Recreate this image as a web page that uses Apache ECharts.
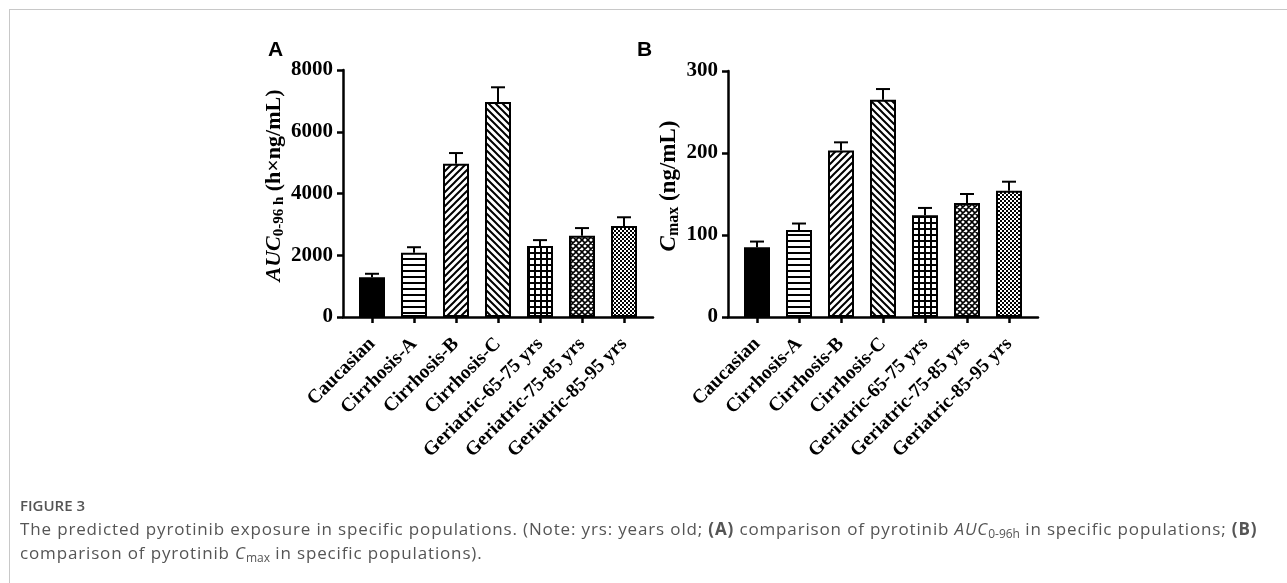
<!DOCTYPE html>
<html><head><meta charset="utf-8">
<script src="https://cdn.jsdelivr.net/npm/echarts@6/dist/echarts.min.js"></script>
<style>
html,body{margin:0;padding:0;background:#fff;}
#wrap{position:relative;width:1287px;height:583px;overflow:hidden;background:#fff;}
#frame{position:absolute;left:9px;top:9px;width:1400px;height:700px;border-top:1px solid #c8c8c8;border-left:1px solid #c8c8c8;}
#chart{position:absolute;left:0;top:0;width:1287px;height:583px;}
#fig{position:absolute;left:20px;top:494px;font-family:'Open Sans';font-weight:600;color:#555;font-size:15px;line-height:22px;white-space:nowrap;}
#cap{position:absolute;left:20px;top:517px;font-family:'Open Sans';color:#555;font-size:17px;letter-spacing:0.85px;line-height:24px;white-space:nowrap;}
#cap sub{font-size:12px;line-height:0;vertical-align:-3px;letter-spacing:0;}
#cap b{font-weight:700;}
</style></head>
<body>
<div id="wrap">
<div id="frame"></div>
<div id="chart"></div>
<div id="fig">FIGURE 3</div>
<div id="cap">The predicted pyrotinib exposure in specific populations. (Note: yrs: years old; <b>(A)</b> comparison of pyrotinib <i>AUC</i><sub>0-96h</sub> in specific populations; <b>(B)</b><br>comparison of pyrotinib <i>C</i><sub>max</sub> in specific populations).</div>
</div>
<script>
const categories = ['Caucasian','Cirrhosis-A','Cirrhosis-B','Cirrhosis-C','Geriatric-65-75 yrs','Geriatric-75-85 yrs','Geriatric-85-95 yrs'];
const aucMean = [1290, 2080, 4960, 6960, 2300, 2630, 2950];
const aucSD   = [110, 180, 350, 480, 190, 250, 280];
const cmaxMean = [85, 106, 203, 265, 124, 139, 154];
const cmaxSD   = [7, 8, 10, 13, 9, 11, 11];
const aucTicks = [0, 2000, 4000, 6000, 8000];
const cmaxTicks = [0, 100, 200, 300];

function mk(size, draw){
  const c = document.createElement('canvas'); c.width = size; c.height = size;
  const g = c.getContext('2d'); g.fillStyle = '#fff'; g.fillRect(0,0,size,size);
  g.fillStyle = '#000'; g.strokeStyle = '#000'; draw(g, size); return {image:c, repeat:'repeat'};
}
const patterns = [
  '#000',
  mk(6, (g)=>{ g.fillRect(0,0,6,2); }),
  mk(7, (g,s)=>{ g.lineWidth=2; g.beginPath(); g.moveTo(-1,s+1); g.lineTo(s+1,-1); g.moveTo(-1,1); g.lineTo(1,-1); g.moveTo(s-1,s+1); g.lineTo(s+1,s-1); g.stroke(); }),
  mk(7, (g,s)=>{ g.lineWidth=2; g.beginPath(); g.moveTo(-1,-1); g.lineTo(s+1,s+1); g.moveTo(s-1,-1); g.lineTo(s+1,1); g.moveTo(-1,s-1); g.lineTo(1,s+1); g.stroke(); }),
  mk(6, (g)=>{ g.fillRect(0,0,6,2); g.fillRect(0,0,2,6); }),
  mk(6, (g,s)=>{ g.lineWidth=1.6; g.beginPath(); g.moveTo(-1,s+1); g.lineTo(s+1,-1); g.moveTo(-1,-1); g.lineTo(s+1,s+1); g.moveTo(-1,1); g.lineTo(1,-1); g.moveTo(s-1,s+1); g.lineTo(s+1,s-1); g.moveTo(s-1,-1); g.lineTo(s+1,1); g.moveTo(-1,s-1); g.lineTo(1,s+1); g.stroke(); }),
  mk(4, (g)=>{ g.fillRect(0,0,2,2); g.fillRect(2,2,2,2); })
];

const serif = '"Liberation Serif", "Times New Roman", serif';
const xlab = {fontFamily: serif, fontWeight:'bold', fontSize:19.5, color:'#000'};
const ylab = {fontFamily: serif, fontWeight:'bold', fontSize:21, color:'#000'};

function errRender(params, api){
  const x = api.value(0), m = api.value(1), u = api.value(2);
  const p0 = api.coord([x, m]), p1 = api.coord([x, u]);
  const h = 7;
  return {type:'group', children:[
    {type:'line', shape:{x1:p0[0], y1:p0[1], x2:p1[0], y2:p1[1]}, style:{stroke:'#000', lineWidth:2}},
    {type:'line', shape:{x1:p1[0]-h, y1:p1[1], x2:p1[0]+h, y2:p1[1]}, style:{stroke:'#000', lineWidth:2}}
  ]};
}

function dataX(gi){
  return {type:'category', gridIndex:gi, data:categories, boundaryGap:true,
    axisLine:{show:false}, axisTick:{show:true, alignWithLabel:true, length:6, lineStyle:{color:'#000', width:2.5}},
    axisLabel:Object.assign({interval:0, rotate:45, margin:24}, xlab), splitLine:{show:false}};
}
function frameX(gi){
  return {type:'value', gridIndex:gi, min:0, max:1, axisLine:{show:true, onZero:false, lineStyle:{color:'#000', width:2.5}},
    axisTick:{show:false}, axisLabel:{show:false}, splitLine:{show:false}};
}
function dataY(gi, ticks, name, gap, rich){
  return {type:'value', gridIndex:gi, min:ticks[0], max:ticks[ticks.length-1], interval:ticks[1]-ticks[0], offset:8,
    axisLine:{show:true, lineStyle:{color:'#000', width:2.5}},
    axisTick:{show:true, length:6, lineStyle:{color:'#000', width:2.5}},
    axisLabel:Object.assign({margin:10, formatter:(v)=>String(v)}, ylab), splitLine:{show:false},
    name:name, nameLocation:'middle', nameRotate:90, nameGap:gap,
    nameTextStyle:{rich:rich, padding:[0,0,0,16]}};
}
const frameY = (gi)=>({type:'value', gridIndex:gi, min:0, max:1, show:false});

const richBase = {fontFamily:serif, fontWeight:'bold', fontSize:22, lineHeight:26, color:'#000'};
const richA = {
  i:Object.assign({}, richBase, {fontStyle:'italic'}),
  s:Object.assign({}, richBase, {fontSize:15, lineHeight:15, verticalAlign:'bottom'}),
  n:Object.assign({}, richBase)
};
const richB = {
  i:Object.assign({}, richBase, {fontStyle:'italic', fontSize:23}),
  s:Object.assign({}, richBase, {fontSize:16, lineHeight:15, verticalAlign:'bottom'}),
  n:Object.assign({}, richBase, {fontSize:23})
};

const barData = (vals)=>vals.map((v,i)=>({value:v, itemStyle:{color:patterns[i]}}));
const errData = (m, sd)=>m.map((v,i)=>[i, v, v+sd[i]]);

const chart = echarts.init(document.getElementById('chart'), null, {renderer:'canvas'});
chart.setOption({
  animation:false,
  backgroundColor:'transparent',
  graphic:[
    {type:'text', left:268, top:40, style:{text:'A', font:'bold 21px "Liberation Sans", Arial, sans-serif', fill:'#000'}},
    {type:'text', left:637, top:40, style:{text:'B', font:'bold 21px "Liberation Sans", Arial, sans-serif', fill:'#000'}}
  ],
  grid:[
    {left:351, top:70, width:294, height:247, outerBoundsMode:'none'},
    {left:343, top:70, width:310, height:247, outerBoundsMode:'none'},
    {left:736, top:71, width:294, height:246, outerBoundsMode:'none'},
    {left:728, top:71, width:310, height:246, outerBoundsMode:'none'}
  ],
  xAxis:[dataX(0), frameX(1), dataX(2), frameX(3)],
  yAxis:[
    dataY(0, aucTicks, '{i|AUC}{s|0-96 h}{n| (h×ng/mL)}', 56, richA),
    frameY(1),
    dataY(2, cmaxTicks, '{i|C}{s|max}{n| (ng/mL)}', 46, richB),
    frameY(3)
  ],
  series:[
    {type:'bar', xAxisIndex:0, yAxisIndex:0, data:barData(aucMean), barWidth:26, itemStyle:{borderColor:'#000', borderWidth:2}, z:2},
    {type:'custom', xAxisIndex:0, yAxisIndex:0, data:errData(aucMean, aucSD), renderItem:errRender, encode:{x:0, y:[1,2]}, z:3},
    {type:'bar', xAxisIndex:2, yAxisIndex:2, data:barData(cmaxMean), barWidth:26, itemStyle:{borderColor:'#000', borderWidth:2}, z:2},
    {type:'custom', xAxisIndex:2, yAxisIndex:2, data:errData(cmaxMean, cmaxSD), renderItem:errRender, encode:{x:0, y:[1,2]}, z:3}
  ]
});
</script>
</body></html>
